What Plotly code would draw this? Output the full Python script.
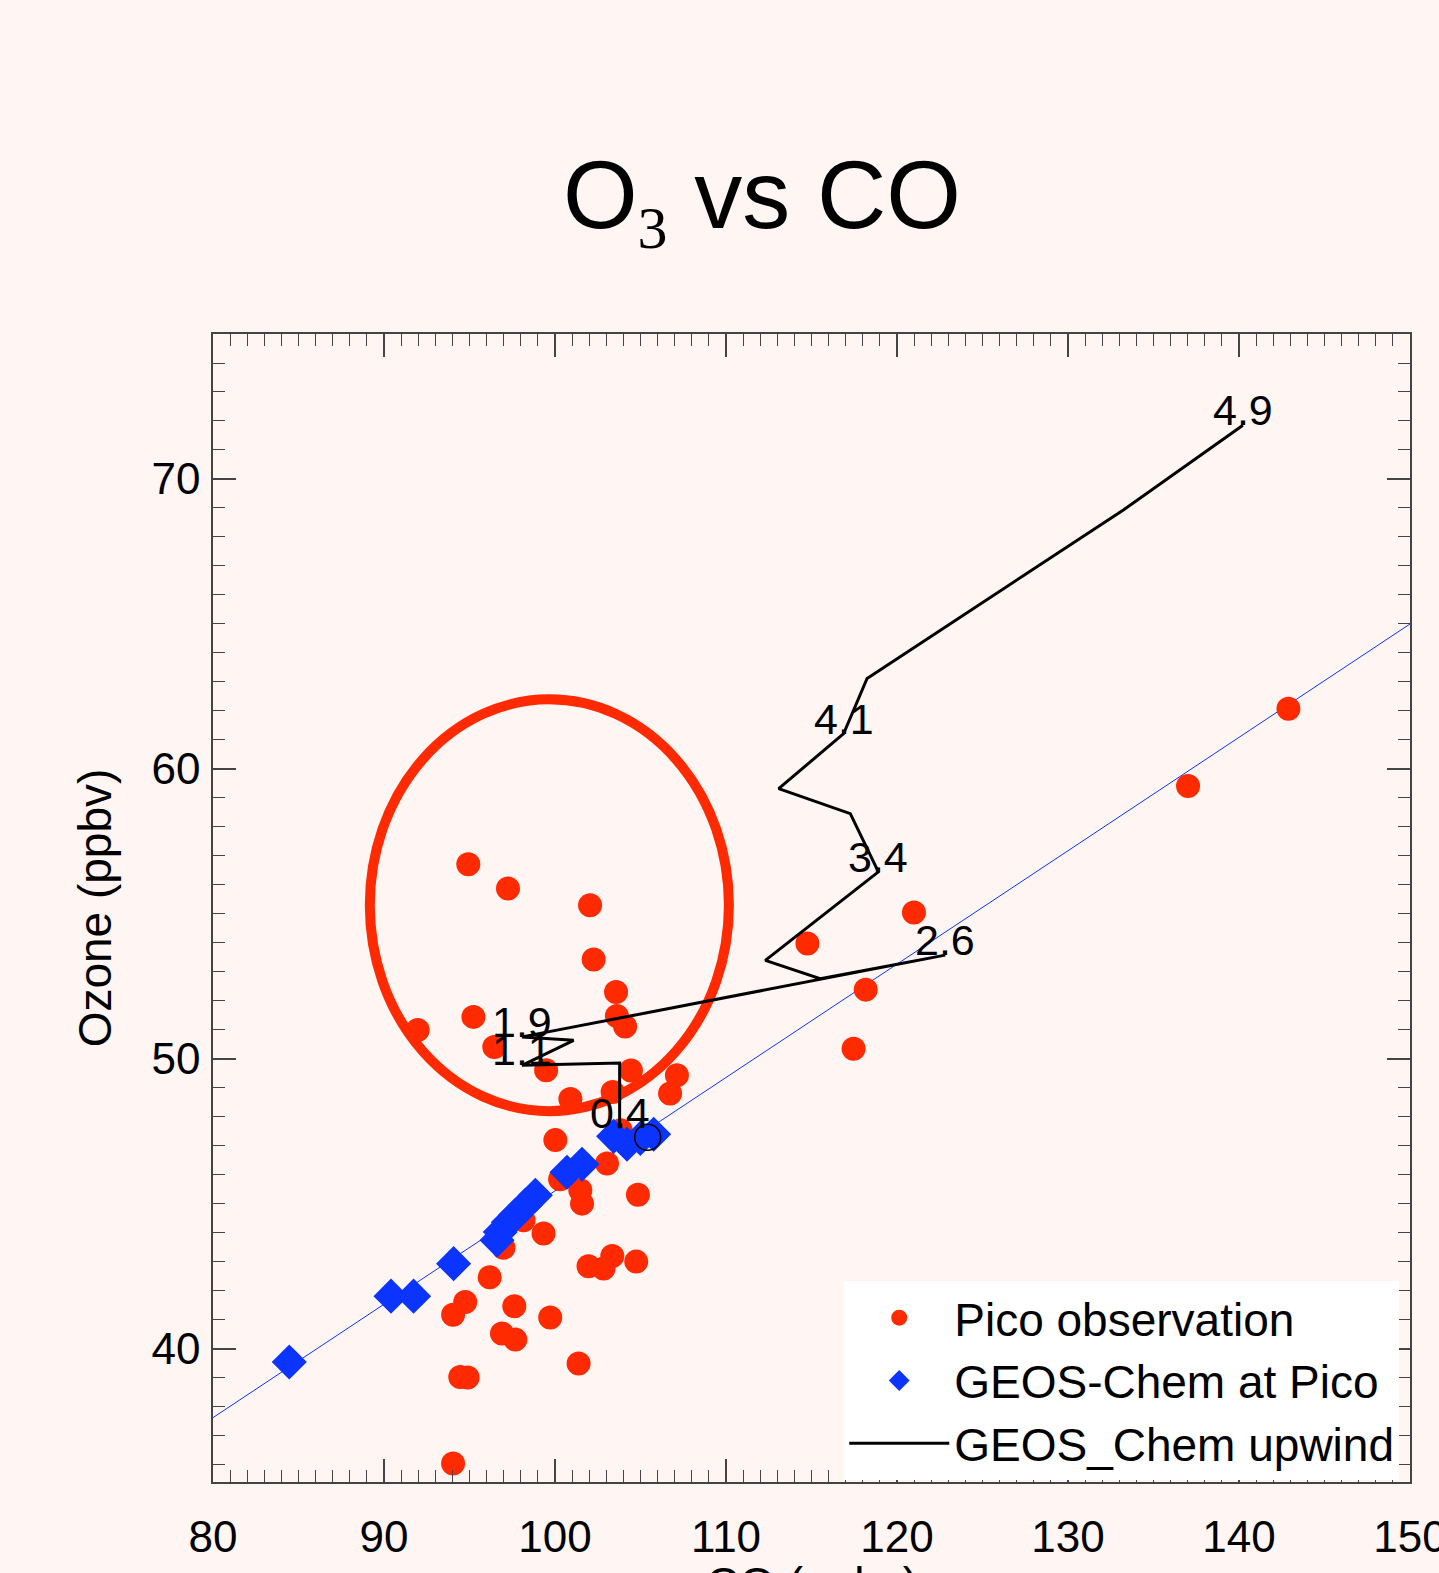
import plotly.graph_objects as go

# ---------------- data ----------------
X_RANGE = [80, 150]
Y_RANGE = [35.41, 75]

# Pico observations (CO ppbv, O3 ppbv)
pico_co = [142.89, 137.02, 120.99, 114.76, 118.17, 117.46, 94.93, 97.25, 102.05, 102.26,
           103.57, 103.62, 104.10, 91.97, 95.23, 96.45, 99.48, 104.44, 107.13, 106.73,
           103.37, 100.90, 103.84, 100.02, 103.04, 101.48, 101.58, 104.85, 99.33, 98.16,
           96.99, 96.18, 101.96, 102.84, 103.35, 104.75, 94.75, 94.04, 97.62, 99.72,
           96.90, 97.68, 101.38, 94.46, 94.89, 94.04, 100.30]
pico_o3 = [62.08, 59.41, 55.05, 53.98, 52.39, 50.35, 56.71, 55.88, 55.30, 53.43,
           52.31, 51.48, 51.12, 51.00, 51.45, 50.41, 49.61, 49.60, 49.44, 48.81,
           48.86, 48.62, 47.54, 47.20, 46.39, 45.47, 45.01, 45.32, 43.98, 44.44,
           43.49, 42.47, 42.85, 42.77, 43.20, 43.01, 41.62, 41.18, 41.47, 41.08,
           40.53, 40.32, 39.50, 39.03, 39.01, 36.05, 45.85]

# GEOS-Chem sampled at Pico
gc_co = [84.46, 90.41, 91.73, 94.07, 96.61, 96.80, 97.27, 97.68, 98.26, 98.85,
         100.70, 101.58, 103.43, 104.21, 104.99, 105.77]
gc_o3 = [39.55, 41.82, 41.82, 42.94, 43.75, 44.03, 44.37, 44.61, 44.95, 45.30,
         46.09, 46.37, 47.33, 47.06, 47.26, 47.40]

# GEOS-Chem upwind trajectory
up_co = [103.78, 103.78, 98.07, 101.09, 98.07, 122.82, 115.51, 112.30, 118.91, 117.27,
         113.08, 116.88, 118.25, 133.26, 140.23]
up_o3 = [47.61, 49.86, 49.78, 50.64, 50.76, 53.58, 52.77, 53.40, 56.45, 58.46,
         59.32, 61.22, 63.12, 68.94, 71.85]
up_labels = ["0.4", "", "1.1", "", "1.9", "2.6", "", "", "3.4", "", "", "4.1", "", "", "4.9"]

# start point (open circle)
start_co = [105.42]
start_o3 = [47.30]

# regression line of GEOS-Chem at Pico
fit_slope = 0.391
fit_intercept = 6.35

# highlighted ellipse
ellipse_center = (99.67, 55.30)
ellipse_radius = (10.5, 7.1)

# ---------------- style ----------------
RED = "#FF2A00"
BLUE = "#0B34FF"
BG = "#FFF6F4"
FONT = "Liberation Sans, Arial, Helvetica, sans-serif"
AXC = "#444444"

fig = go.Figure()

fit_x = list(X_RANGE)
fit_y = [fit_intercept + fit_slope * v for v in fit_x]
fig.add_trace(go.Scatter(x=fit_x, y=fit_y, mode="lines",
                         line=dict(color=BLUE, width=1), showlegend=False, hoverinfo="skip"))

fig.add_trace(go.Scatter(x=pico_co, y=pico_o3, mode="markers", name="Pico observation",
                         marker=dict(symbol="circle", size=24, color=RED, line=dict(width=0))))

fig.add_trace(go.Scatter(x=gc_co, y=gc_o3, mode="markers", name="GEOS-Chem at Pico",
                         marker=dict(symbol="diamond", size=27, color=BLUE, line=dict(width=0))))

fig.add_trace(go.Scatter(x=up_co, y=up_o3, mode="lines", name="GEOS_Chem upwind",
                         line=dict(color="black", width=3)))

fig.add_trace(go.Scatter(x=start_co, y=start_o3, mode="markers", showlegend=False,
                         marker=dict(symbol="circle-open", size=26, color="black",
                                     line=dict(width=1.5, color="black"))))

for cx, cy, lab in zip(up_co, up_o3, up_labels):
    if lab:
        fig.add_annotation(x=cx, y=cy, xref="x", yref="y", text=lab, showarrow=False,
                           xanchor="center", yanchor="bottom", yshift=-11,
                           font=dict(family=FONT, size=43, color="black"))

fig.add_shape(type="circle", xref="x", yref="y", layer="below",
              x0=ellipse_center[0] - ellipse_radius[0], x1=ellipse_center[0] + ellipse_radius[0],
              y0=ellipse_center[1] - ellipse_radius[1], y1=ellipse_center[1] + ellipse_radius[1],
              line=dict(color=RED, width=10))

# x-axis title (sits partly below the page edge, as in the original)
fig.add_annotation(x=0.5, y=-0.0647, xref="paper", yref="paper", text="CO (ppbv)",
                   showarrow=False, xanchor="center", yanchor="top",
                   font=dict(family=FONT, size=46, color="black"))

axis_common = dict(
    showgrid=False, zeroline=False, showline=True, linecolor=AXC, linewidth=1.5,
    mirror="ticks", ticks="inside", ticklen=23, tickwidth=1.5, tickcolor=AXC,
    tickfont=dict(family=FONT, size=44, color="black"),
    minor=dict(ticks="inside", ticklen=12, tickwidth=1.2, tickcolor=AXC, dtick=1, showgrid=False),
)

fig.update_xaxes(range=X_RANGE, dtick=10, tick0=80, ticklabelstandoff=15,
                 ticklabeloverflow="allow", **axis_common)
fig.update_yaxes(range=Y_RANGE, dtick=10, tick0=40, ticklabelstandoff=2,
                 title=dict(text="Ozone (ppbv)", font=dict(family=FONT, size=46, color="black"),
                            standoff=25),
                 **axis_common)

fig.update_layout(
    width=1439, height=1573,
    margin=dict(l=213, r=29, t=334, b=91, autoexpand=False),
    paper_bgcolor=BG, plot_bgcolor=BG,
    font=dict(family=FONT, color="black"),
    title=dict(text='O<sub><span style="font-family:Liberation Serif, DejaVu Serif, serif;font-size:60px">3</span></sub> vs CO',
               x=0.5295, xanchor="center", y=0.8767, yanchor="middle",
               font=dict(family=FONT, size=96, color="black")),
    legend=dict(x=0.991, xanchor="right", y=0.0015, yanchor="bottom",
                bgcolor="white", borderwidth=0, itemwidth=100,
                font=dict(family=FONT, size=46, color="black")),
    showlegend=True,
)

fig.write_html("out.html")
